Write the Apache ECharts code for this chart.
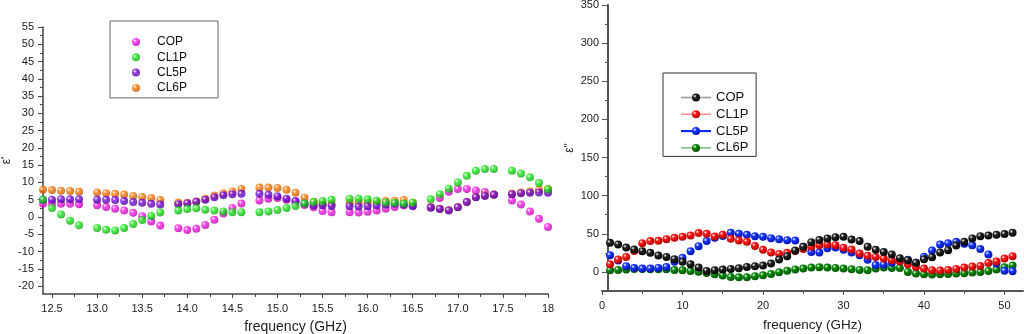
<!DOCTYPE html>
<html>
<head>
<meta charset="utf-8">
<script src="https://cdn.jsdelivr.net/npm/echarts@6/dist/echarts.min.js"></script>
<style>html,body{margin:0;padding:0;background:#fff;}#c{width:1024px;height:334px;}</style>
</head>
<body>
<div id="c"></div>
<script>
// ---------- Left chart (epsilon') ----------
const freqL = [12.4,12.5,12.6,12.7,12.8, 13.0,13.1,13.2,13.3,13.4,13.5,13.6,13.7,
  13.9,14.0,14.1,14.2,14.3,14.4,14.5,14.6, 14.8,14.9,15.0,15.1,15.2,15.3,15.4,15.5,15.6,
  15.8,15.9,16.0,16.1,16.2,16.3,16.4,16.5, 16.7,16.8,16.9,17.0,17.1,17.2,17.3,17.4,
  17.6,17.7,17.8,17.9,18.0];
const copL = [3.8,3.9,3.8,3.8,3.7, 3.4,2.9,2.4,1.9,1.2,0.2,-1.3,-2.5,
  -3.3,-3.8,-3.4,-2.3,-0.8,1.0,2.6,3.9, 4.8,5.3,5.5,5.0,4.3,3.5,2.8,1.7,1.4,
  1.4,1.3,1.5,1.9,2.4,2.9,3.3,3.4, 2.9,5.5,7.3,8.1,8.1,7.7,7.2,6.5,
  4.8,3.6,1.6,-0.5,-2.9];
const cl1pL = [5.0,2.6,0.7,-1.1,-2.4, -3.2,-3.7,-3.9,-3.2,-2.0,-0.9,0.3,1.3,
  1.9,2.3,2.5,2.1,1.9,1.6,1.4,1.4, 1.4,1.6,2.0,2.6,3.2,3.9,4.3,4.6,5.0,
  5.3,5.3,5.1,4.7,4.2,4.1,3.9,4.1, 5.1,6.6,8.2,10.0,11.9,13.4,13.9,13.9,
  13.4,12.6,11.5,9.8,8.0];
const cl5pL = [5.0,5.0,5.1,5.1,5.1, 5.0,5.0,4.9,4.6,4.3,4.1,3.8,3.6,
  3.7,4.0,4.4,5.0,5.7,6.3,6.6,6.7, 6.7,6.4,6.0,5.3,4.6,3.9,3.4,3.4,3.2,
  3.1,3.0,3.1,3.3,3.6,3.8,3.6,3.1, 2.7,2.3,1.9,2.8,4.3,5.7,6.1,6.4,
  6.6,6.9,7.0,7.1,7.0];
const cl6pL = [7.9,7.8,7.6,7.5,7.3, 7.1,6.9,6.7,6.5,6.1,5.8,5.5,4.9,
  4.2,4.1,4.5,5.3,6.2,6.9,7.4,8.1, 8.5,8.5,8.4,7.9,7.0,5.6,4.4,3.9,3.8,
  4.1,4.1,4.1,4.4,4.6,4.7,4.9,4.1, 2.8,2.4,2.0,2.9,4.4,5.8,6.3,6.5,
  6.8,7.1,7.4,7.9,8.0];
const leftXTicks = [12.5,13.0,13.5,14.0,14.5,15.0,15.5,16.0,16.5,17.0,17.5,18.0];
const leftXMinor = [12.75,13.25,13.75,14.25,14.75,15.25,15.75,16.25,16.75,17.25,17.75];
const leftYTicks = [-20,-15,-10,-5,0,5,10,15,20,25,30,35,40,45,50,55];
const leftYMinor = [-17.5,-12.5,-7.5,-2.5,2.5,7.5,12.5,17.5,22.5,27.5,32.5,37.5,42.5,47.5,52.5];

// ---------- Right chart (epsilon'') ----------
const freqR = [1,2,3,4,5,6,7,8,9,10,11,12,13,14,15,16,17,18,19,20,21,22,23,24,25,26,
  27,28,29,30,31,32,33,34,35,36,37,38,39,40,41,42,43,44,45,46,47,48,49,50,51];
const copR = [38.2,36.0,32.0,29.4,27.2,25.0,21.5,19.7,16.7,13.2,10.1,5.7,1.3,2.2,3.1,3.9,4.8,6.6,7.5,8.3,
  11.0,16.2,20.6,28.1,33,39,42,44,45.5,46,42.5,40.5,33,29,26,23,18,15.4,12,16.5,
  19.3,25.5,28.5,34.5,39.5,44,46.9,47.8,48.7,49.6,51.3];
const cl1pR = [10.1,16.2,19.7,27.6,37.7,40.4,40.8,43,44.7,46.1,47.8,50.9,50,46.5,48.7,43.4,41.2,39.5,34,29,
  25.5,23.5,25,27.5,30,33,35,36,35,31.6,29.4,24.1,21.1,19.7,17.5,15.4,14,10.1,6.6,4.4,
  2.2,1.8,2.6,4.0,5.7,7.0,7.9,11.8,13.6,17.5,20.6];
const cl5pR = [22,15,7.5,5.3,4.4,4.4,5.3,6.6,13.2,18.5,27.2,33.8,40.4,44.8,47,51.3,50,48.7,46.9,46.1,
  44.3,43,41.7,41.2,33,26,25.5,31,32,29,25.5,22,16,9,9.5,12,14,16,12,20,
  28,36,37.5,39.5,37,35,30,23,11,1.5,1];
const cl6pR = [2.2,2.6,3.3,3.7,3.7,3.5,3.5,3.5,2.6,2.2,1.1,0.3,-1.3,-3.1,-4.6,-6.6,-7,-7,-5.7,-4.4,
  -2.7,-0.4,1.5,3.3,4.4,5.7,6.2,5.7,5.3,4.4,3.5,2.6,2.2,4.4,5.7,5.3,5.3,0,-2.2,-3.1,
  -3.5,-3.1,-2.6,-2.2,-1.8,-0.9,0,1.3,3.1,6,8.5];
const rightXTicks = [0,10,20,30,40,50];
const rightXMinor = [5,15,25,35,45];
const rightYTicks = [0,50,100,150,200,250,300,350];
const rightYMinor = [25,75,125,175,225,275,325];

function pairs(xs, ys){ return xs.map((x,i)=>[x, ys[i]]); }
function sphere(c, dark){
  return {type:'radial', x:0.35, y:0.33, r:0.75,
    colorStops:[{offset:0,color:'#ffffff'},{offset:0.3,color:c},{offset:1,color:dark}]};
}
const FONT = 'Liberation Sans, Arial, sans-serif';
const axisCol = '#444';
const lblStyle = {color:'#222', fontSize:11, fontFamily:FONT};

const chart = echarts.init(document.getElementById('c'), null, {renderer:'canvas'});

function leftScatter(name, data, c, dark){
  return {name, type:'scatter', xAxisIndex:0, yAxisIndex:0, data:pairs(freqL, data),
    symbol:'circle', symbolSize:8, itemStyle:{color:sphere(c, dark)}, silent:true};
}
function rightSeries(name, data, c, dark){
  return {name, type:'line', xAxisIndex:2, yAxisIndex:2, data:pairs(freqR, data),
    symbol:'circle', symbolSize:8, showSymbol:true, lineStyle:{width:0, opacity:0},
    itemStyle:{color:sphere(c, dark)}, silent:true};
}

const option = {
  animation:false,
  grid:[
    {left:43, top:27, width:505, height:267, containLabel:false, outerBoundsMode:'none'},
    {left:602, top:5, width:421, height:286, containLabel:false, outerBoundsMode:'none'}
  ],
  xAxis:[
    {type:'value', gridIndex:0, position:'bottom', min:12.4, max:18.0,
      name:'frequency (GHz)', nameLocation:'middle', nameGap:26,
      nameTextStyle:{fontSize:14, color:'#222', fontFamily:FONT},
      axisLine:{show:true, onZero:false, lineStyle:{color:axisCol, width:1.5}},
      axisTick:{show:true, customValues:leftXTicks, length:4, lineStyle:{color:axisCol}},
      axisLabel:{customValues:leftXTicks, margin:9, ...lblStyle,
        formatter:v=>v.toFixed(1).replace('18.0','18')},
      splitLine:{show:false}},
    {type:'value', gridIndex:0, position:'bottom', min:12.4, max:18.0,
      axisLine:{show:false, onZero:false},
      axisTick:{show:true, customValues:leftXMinor, length:3, lineStyle:{color:axisCol}},
      axisLabel:{show:false}, splitLine:{show:false}},
    {type:'value', gridIndex:1, position:'bottom', min:0, max:52.3,
      name:'frequency (GHz)', nameLocation:'middle', nameGap:27.5,
      nameTextStyle:{fontSize:13.5, color:'#222', fontFamily:FONT},
      axisLine:{show:true, onZero:false, lineStyle:{color:'#555', width:2}},
      axisTick:{show:true, customValues:rightXTicks, length:4, lineStyle:{color:'#555'}},
      axisLabel:{customValues:rightXTicks, margin:9, ...lblStyle}, splitLine:{show:false}},
    {type:'value', gridIndex:1, position:'bottom', min:0, max:52.3,
      axisLine:{show:false, onZero:false},
      axisTick:{show:true, customValues:rightXMinor, length:3, lineStyle:{color:'#555'}},
      axisLabel:{show:false}, splitLine:{show:false}}
  ],
  yAxis:[
    {type:'value', gridIndex:0, position:'left', min:-22.3, max:55,
      name:"ε'", nameLocation:'middle', nameGap:30, nameRotate:90,
      nameTextStyle:{fontSize:12, color:'#222', fontFamily:FONT},
      axisLine:{show:true, onZero:false, lineStyle:{color:axisCol, width:1.5}},
      axisTick:{show:true, customValues:leftYTicks, length:5, lineStyle:{color:axisCol}},
      axisLabel:{customValues:leftYTicks, margin:9, ...lblStyle},
      splitLine:{show:false}},
    {type:'value', gridIndex:0, position:'left', min:-22.3, max:55,
      axisLine:{show:false, onZero:false},
      axisTick:{show:true, customValues:leftYMinor, length:3, lineStyle:{color:axisCol}},
      axisLabel:{show:false}, splitLine:{show:false}},
    {type:'value', gridIndex:1, position:'left', min:-25, max:350, offset:-6,
      name:'ε"', nameLocation:'middle', nameGap:32, nameRotate:90,
      nameTextStyle:{fontSize:12, color:'#222', fontFamily:FONT},
      axisLine:{show:true, onZero:false, lineStyle:{color:'#555', width:2}},
      axisTick:{show:true, customValues:rightYTicks, length:6, lineStyle:{color:'#555'}},
      axisLabel:{customValues:rightYTicks, margin:9, ...lblStyle},
      splitLine:{show:false}},
    {type:'value', gridIndex:1, position:'left', min:-25, max:350, offset:-6,
      axisLine:{show:false, onZero:false},
      axisTick:{show:true, customValues:rightYMinor, length:3, lineStyle:{color:'#555'}},
      axisLabel:{show:false}, splitLine:{show:false}}
  ],
  legend:[
    {left:110, top:21, orient:'vertical', padding:[15,31,4,22],
      itemWidth:32, itemHeight:8, itemGap:3.3,
      backgroundColor:'#fff', borderColor:'#666', borderWidth:1,
      textStyle:{fontSize:12, color:'#111', fontFamily:FONT},
      data:['COP','CL1P','CL5P','CL6P'].map(n=>({name:n})),
      selectedMode:false},
    {left:663, top:73, orient:'vertical', padding:[18,4,2,17],
      itemWidth:30, itemHeight:10, itemGap:3.8,
      backgroundColor:'#fff', borderColor:'#333', borderWidth:1,
      textStyle:{fontSize:13, color:'#111', fontFamily:FONT},
      data:[
        {name:'COP ', lineStyle:{color:'#999', width:1.5, opacity:1}},
        {name:'CL1P ', lineStyle:{color:'#ff8a8a', width:1.5, opacity:1}},
        {name:'CL5P ', lineStyle:{color:'#0020ff', width:2, opacity:1}},
        {name:'CL6P ', lineStyle:{color:'#3a9a3a', width:1, opacity:1}}
      ],
      selectedMode:false}
  ],
  series:[
    leftScatter('COP', copL, '#ff22ee', '#b0009f'),
    leftScatter('CL6P', cl6pL, '#ff8010', '#b85000'),
    leftScatter('CL5P', cl5pL, '#7a10e8', '#4a0090'),
    leftScatter('CL1P', cl1pL, '#22f022', '#0a9a0a'),
    rightSeries('CL6P ', cl6pR, '#0c8c0c', '#034a03'),
    rightSeries('CL5P ', cl5pR, '#1838ff', '#0010a0'),
    rightSeries('CL1P ', cl1pR, '#ff1818', '#a00000'),
    rightSeries('COP ', copR, '#222222', '#000000')
  ]
};
chart.setOption(option);
</script>
</body>
</html>
